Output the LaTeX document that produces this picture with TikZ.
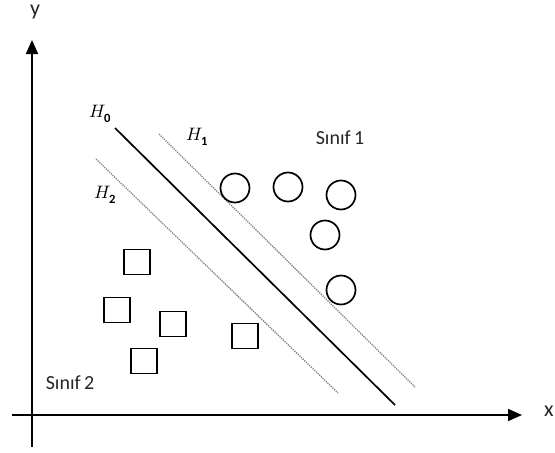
\documentclass[tikz,border=0pt]{standalone}
\usepackage{fontspec}
\setmainfont{Carlito}
\usepackage{unicode-math}
\setmathfont{Latin Modern Math}
\usetikzlibrary{arrows.meta}
\begin{document}
\begin{tikzpicture}[x=1pt,y=-1pt,
  axis/.style={line width=1.7pt,-{Triangle[length=14pt,width=12pt]}},
  hyper/.style={line width=1.7pt},
  margin/.style={line width=1.3pt,densely dotted,gray},
  pt1/.style={circle,draw,line width=1.7pt,minimum size=29pt,inner sep=0pt},
  pt2/.style={rectangle,draw,line width=1.7pt,minimum width=26pt,minimum height=25pt,inner sep=0pt},
  lbl/.style={font=\fontsize{20}{22}\selectfont,inner sep=0pt,text=black!85},
  hl/.style={font=\fontsize{18}{20}\selectfont,inner sep=0pt}]
\useasboundingbox (0,0) rectangle (555,453);
% axes
\coordinate (ybot) at (32,447);
\coordinate (ytop) at (32,40);
\coordinate (xl) at (12,415);
\coordinate (xr) at (522,415);
\draw[axis] (ybot) -- (ytop);
\draw[axis] (xl) -- (xr);
\node[lbl,font=\fontsize{22}{24}\selectfont] (ylab) at (35,12) {y};
\node[lbl,font=\fontsize{22}{24}\selectfont] (xlab) at (549,411) {x};
% lines
\coordinate (h0a) at (115,128);
\coordinate (h0b) at (395,405);
\coordinate (h1a) at (159,134);
\coordinate (h1b) at (415,387);
\coordinate (h2a) at (96,159);
\coordinate (h2b) at (338,393);
\draw[hyper] (h0a) -- (h0b);
\draw[margin] (h1a) -- (h1b);
\draw[margin] (h2a) -- (h2b);
\node[hl] (H0) at (100,114) {$H_{\mathbf{0}}$};
\node[hl] (H1) at (197,137) {$H_{\mathbf{1}}$};
\node[hl] (H2) at (105,195) {$H_{\mathbf{2}}$};
% class 1
\node[pt1] (c1) at (235,188) {};
\node[pt1] (c2) at (288,187) {};
\node[pt1] (c3) at (341,195) {};
\node[pt1] (c4) at (325,235) {};
\node[pt1] (c5) at (341,290) {};
\node[lbl] (s1) at (340,138) {Sınıf\,1};
% class 2
\node[pt2] (q1) at (137,262) {};
\node[pt2] (q2) at (117,310) {};
\node[pt2] (q3) at (173,324) {};
\node[pt2] (q4) at (144,361) {};
\node[pt2] (q5) at (245,336) {};
\node[lbl] (s2) at (70,383) {Sınıf\,2};
\end{tikzpicture}
\end{document}
